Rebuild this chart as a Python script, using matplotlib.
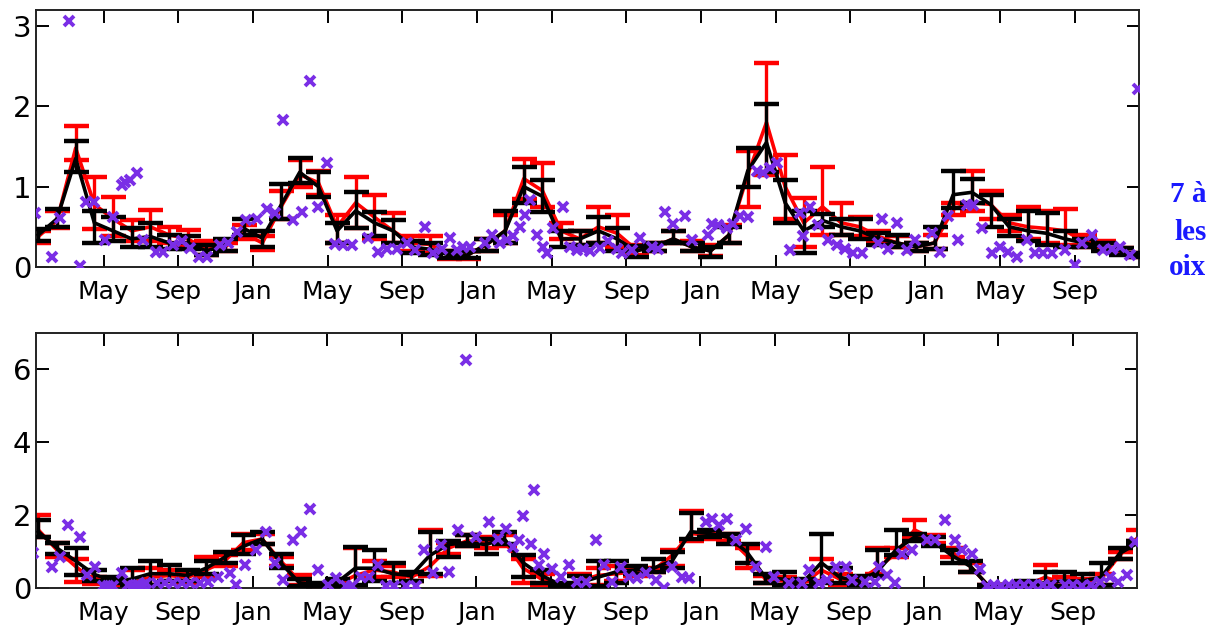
import numpy as np
import matplotlib
matplotlib.use("Agg")
import matplotlib.pyplot as plt

# monthly means (mid-month), 5 years starting Jan
tick_pos = [4, 8, 12, 16, 20, 24, 28, 32, 36, 40, 44, 48, 52, 56]
tick_labels = ["May", "Sep", "Jan", "May", "Sep", "Jan", "May", "Sep",
               "Jan", "May", "Sep", "Jan", "May", "Sep"]

# ---- top panel ----
black_mean_top = [0.40, 0.60, 1.35, 0.55, 0.45, 0.35, 0.38, 0.30, 0.30, 0.20, 0.27, 0.48, 0.36, 0.77, 1.18, 1.00, 0.45, 0.70, 0.55, 0.45,
                  0.25, 0.22, 0.15, 0.15, 0.28, 0.45, 1.00, 0.88, 0.35, 0.35, 0.45, 0.35, 0.20, 0.25, 0.35, 0.25, 0.20, 0.40, 1.20, 1.55,
                  0.80, 0.45, 0.58, 0.50, 0.45, 0.35, 0.30, 0.25, 0.30, 0.90, 0.93, 0.78, 0.50, 0.45, 0.42, 0.35, 0.30, 0.25, 0.20, 0.15]
black_hi_top = [0.47, 0.72, 1.57, 0.70, 0.62, 0.48, 0.55, 0.40, 0.38, 0.27, 0.35, 0.60, 0.45, 1.03, 1.36, 1.18, 0.55, 0.94, 0.68, 0.58,
                0.33, 0.30, 0.20, 0.20, 0.35, 0.70, 1.25, 1.08, 0.45, 0.45, 0.62, 0.48, 0.26, 0.30, 0.45, 0.30, 0.25, 0.50, 1.48, 2.03,
                1.08, 0.70, 0.66, 0.60, 0.60, 0.42, 0.40, 0.30, 0.50, 1.20, 1.09, 0.90, 0.60, 0.70, 0.67, 0.45, 0.35, 0.30, 0.24, 0.18]
black_lo_top = [0.32, 0.50, 1.18, 0.30, 0.32, 0.25, 0.25, 0.22, 0.22, 0.15, 0.20, 0.40, 0.25, 0.60, 1.04, 0.87, 0.30, 0.48, 0.38, 0.30,
                0.17, 0.15, 0.11, 0.11, 0.20, 0.30, 0.80, 0.68, 0.25, 0.28, 0.30, 0.20, 0.12, 0.20, 0.30, 0.20, 0.13, 0.30, 1.00, 1.18,
                0.55, 0.18, 0.50, 0.40, 0.35, 0.28, 0.25, 0.20, 0.22, 0.74, 0.80, 0.50, 0.38, 0.33, 0.28, 0.25, 0.25, 0.20, 0.15, 0.12]
red_mean_top = [0.38, 0.58, 1.48, 0.78, 0.60, 0.45, 0.50, 0.40, 0.35, 0.22, 0.25, 0.42, 0.30, 0.75, 1.15, 1.05, 0.50, 0.80, 0.62, 0.45,
                0.30, 0.28, 0.15, 0.15, 0.28, 0.45, 1.10, 0.95, 0.45, 0.35, 0.50, 0.42, 0.22, 0.25, 0.35, 0.25, 0.20, 0.40, 1.15, 1.80,
                1.00, 0.55, 0.75, 0.55, 0.50, 0.38, 0.30, 0.25, 0.30, 0.72, 0.80, 0.78, 0.55, 0.50, 0.48, 0.45, 0.32, 0.27, 0.20, 0.15]
red_hi_top = [0.45, 0.70, 1.76, 1.12, 0.87, 0.59, 0.71, 0.50, 0.46, 0.32, 0.30, 0.52, 0.38, 0.95, 1.33, 1.20, 0.65, 1.12, 0.90, 0.67,
              0.38, 0.38, 0.20, 0.20, 0.35, 0.65, 1.35, 1.30, 0.55, 0.45, 0.75, 0.65, 0.28, 0.30, 0.45, 0.32, 0.27, 0.52, 1.45, 2.54,
              1.40, 0.86, 1.24, 0.80, 0.62, 0.45, 0.38, 0.30, 0.40, 0.80, 1.20, 0.95, 0.65, 0.75, 0.70, 0.72, 0.40, 0.32, 0.24, 0.18]
red_lo_top = [0.30, 0.48, 1.33, 0.47, 0.38, 0.32, 0.32, 0.30, 0.25, 0.15, 0.20, 0.35, 0.21, 0.60, 1.00, 0.90, 0.30, 0.48, 0.35, 0.30,
              0.20, 0.18, 0.10, 0.10, 0.20, 0.30, 0.85, 0.75, 0.35, 0.28, 0.30, 0.25, 0.15, 0.20, 0.30, 0.20, 0.14, 0.30, 0.75, 1.15,
              0.60, 0.25, 0.40, 0.40, 0.38, 0.30, 0.25, 0.20, 0.22, 0.65, 0.70, 0.60, 0.45, 0.35, 0.30, 0.28, 0.25, 0.22, 0.16, 0.12]
samples_t_top = [0.32, 1.22, 1.66, 2.16, 2.73, 3.05, 3.48, 4.07, 4.48, 4.97, 5.14, 5.41, 5.80, 6.12, 6.80, 7.19, 7.70, 8.18, 8.62, 9.12,
                 9.55, 10.23, 10.67, 11.16, 11.62, 12.20, 12.73, 13.18, 13.62, 14.16, 14.61, 15.05, 15.50, 15.95, 16.39, 16.83, 17.28, 18.17, 18.71, 19.16,
                 19.69, 20.23, 20.67, 21.21, 21.64, 22.10, 22.55, 22.91, 23.26, 23.62, 24.42, 24.78, 25.23, 25.59, 25.94, 26.30, 26.57, 26.83, 27.19, 27.55,
                 27.73, 28.08, 28.62, 28.98, 29.34, 29.67, 30.05, 30.58, 31.01, 31.48, 31.75, 32.28, 32.73, 33.35, 33.69, 34.07, 34.51, 35.14, 35.50, 36.38,
                 36.57, 36.92, 37.37, 37.72, 38.08, 38.53, 38.98, 39.33, 39.69, 40.05, 40.76, 41.30, 41.47, 41.83, 42.28, 42.81, 43.26, 43.71, 44.15, 44.60,
                 45.47, 45.67, 46.01, 46.48, 47.01, 47.46, 48.35, 48.80, 49.24, 49.78, 50.22, 50.56, 51.03, 51.56, 52.01, 52.45, 52.90, 53.44, 53.88, 54.33,
                 54.78, 55.49, 56.03, 56.38, 56.92, 57.54, 57.99, 58.44, 58.97, 59.42]
samples_v_top = [0.67, 0.13, 0.61, 3.06, 0.01, 0.81, 0.81, 0.34, 0.62, 1.02, 1.06, 1.08, 1.17, 0.34, 0.19, 0.19, 0.27, 0.33, 0.24, 0.13,
                 0.13, 0.27, 0.30, 0.44, 0.58, 0.60, 0.72, 0.67, 1.83, 0.58, 0.69, 2.31, 0.75, 1.29, 0.29, 0.28, 0.27, 0.36, 0.19, 0.23,
                 0.23, 0.30, 0.21, 0.50, 0.17, 0.23, 0.36, 0.21, 0.25, 0.25, 0.30, 0.40, 0.30, 0.34, 0.38, 0.50, 0.65, 0.83, 0.40, 0.25,
                 0.17, 0.48, 0.75, 0.25, 0.21, 0.22, 0.20, 0.24, 0.32, 0.22, 0.18, 0.21, 0.36, 0.25, 0.22, 0.69, 0.53, 0.63, 0.34, 0.40,
                 0.54, 0.52, 0.48, 0.54, 0.64, 0.62, 1.19, 1.17, 1.23, 1.29, 0.21, 0.67, 0.38, 0.75, 0.52, 0.34, 0.27, 0.23, 0.17, 0.17,
                 0.30, 0.60, 0.23, 0.55, 0.21, 0.34, 0.42, 0.19, 0.63, 0.34, 0.77, 0.77, 0.48, 0.17, 0.25, 0.19, 0.13, 0.34, 0.17, 0.17,
                 0.18, 0.21, 0.03, 0.30, 0.40, 0.21, 0.23, 0.25, 0.15, 2.22]

# ---- bottom panel ----
black_mean_bot = [1.55, 1.10, 0.75, 0.38, 0.20, 0.25, 0.40, 0.40, 0.35, 0.55, 0.85, 1.15, 1.35, 0.70, 0.15, 0.10, 0.15, 0.55, 0.55, 0.40,
                  0.35, 0.90, 1.20, 1.25, 1.20, 1.35, 0.70, 0.35, 0.10, 0.15, 0.30, 0.45, 0.50, 0.55, 0.75, 1.55, 1.50, 1.40, 1.00, 0.30,
                  0.25, 0.15, 0.70, 0.30, 0.20, 0.45, 1.05, 1.40, 1.28, 0.90, 0.60, 0.05, 0.05, 0.10, 0.15, 0.20, 0.20, 0.30, 0.95, 1.25]
black_hi_bot = [1.86, 1.23, 1.10, 0.50, 0.30, 0.55, 0.75, 0.65, 0.50, 0.75, 1.00, 1.45, 1.55, 0.95, 0.25, 0.15, 0.25, 1.12, 1.04, 0.70,
                0.45, 1.55, 1.30, 1.45, 1.35, 1.55, 0.90, 0.50, 0.15, 0.35, 0.75, 0.75, 0.60, 0.81, 1.00, 2.05, 1.60, 1.50, 1.20, 0.40,
                0.45, 0.25, 1.48, 0.55, 0.35, 1.06, 1.60, 1.50, 1.40, 1.05, 0.75, 0.10, 0.10, 0.20, 0.45, 0.45, 0.40, 0.68, 1.10, 1.30]
black_lo_bot = [1.40, 0.95, 0.37, 0.20, 0.15, 0.08, 0.10, 0.20, 0.20, 0.40, 0.70, 0.95, 1.20, 0.55, 0.05, 0.05, 0.05, 0.10, 0.20, 0.15,
                0.20, 0.40, 0.85, 1.15, 0.95, 1.20, 0.30, 0.15, 0.05, 0.05, 0.05, 0.15, 0.40, 0.45, 0.55, 1.35, 1.40, 1.20, 0.70, 0.15,
                0.10, 0.05, 0.15, 0.15, 0.10, 0.35, 0.90, 1.30, 1.15, 0.70, 0.45, 0.00, 0.00, 0.05, 0.05, 0.05, 0.05, 0.10, 0.80, 1.20]
red_mean_bot = [1.60, 1.05, 0.60, 0.20, 0.15, 0.15, 0.30, 0.35, 0.30, 0.50, 0.75, 1.25, 1.35, 0.75, 0.20, 0.08, 0.10, 0.35, 0.50, 0.45,
                0.30, 0.60, 1.10, 1.30, 1.25, 1.30, 0.55, 0.25, 0.05, 0.20, 0.35, 0.40, 0.45, 0.50, 0.90, 1.50, 1.45, 1.40, 0.90, 0.25,
                0.20, 0.12, 0.50, 0.25, 0.20, 0.55, 0.95, 1.60, 1.35, 1.00, 0.60, 0.05, 0.05, 0.08, 0.30, 0.15, 0.15, 0.25, 0.90, 1.40]
red_hi_bot = [2.00, 1.25, 0.80, 0.30, 0.22, 0.50, 0.55, 0.50, 0.45, 0.85, 0.90, 1.50, 1.50, 0.85, 0.36, 0.12, 0.20, 1.10, 0.75, 0.60,
              0.40, 1.60, 1.25, 1.45, 1.40, 1.45, 0.80, 0.40, 0.10, 0.40, 0.55, 0.60, 0.55, 0.55, 1.05, 2.13, 1.55, 1.50, 1.10, 0.35,
              0.30, 0.20, 0.80, 0.40, 0.30, 1.10, 1.10, 1.86, 1.45, 1.10, 0.70, 0.10, 0.10, 0.15, 0.64, 0.30, 0.25, 0.40, 1.00, 1.60]
red_lo_bot = [1.40, 0.85, 0.18, 0.12, 0.10, 0.05, 0.10, 0.20, 0.15, 0.30, 0.60, 1.05, 1.20, 0.60, 0.08, 0.04, 0.05, 0.05, 0.30, 0.30,
              0.20, 0.35, 0.95, 1.15, 1.10, 1.15, 0.15, 0.10, 0.02, 0.05, 0.10, 0.20, 0.35, 0.45, 0.60, 1.30, 1.35, 1.30, 0.55, 0.15,
              0.10, 0.05, 0.20, 0.10, 0.10, 0.40, 0.85, 1.40, 1.25, 0.85, 0.45, 0.00, 0.00, 0.03, 0.10, 0.05, 0.05, 0.10, 0.80, 1.30]
samples_t_bot = [0.23, 1.22, 1.66, 2.10, 2.73, 3.09, 3.54, 3.96, 4.23, 4.50, 4.97, 5.30, 5.57, 5.84, 6.11, 6.30, 6.86, 7.28, 7.71, 8.20,
                 8.62, 9.16, 9.59, 10.12, 10.77, 11.12, 11.57, 12.20, 12.73, 13.18, 13.62, 14.16, 14.61, 15.05, 15.50, 16.03, 16.48, 17.02, 17.35, 17.82,
                 18.26, 18.71, 19.16, 19.60, 20.25, 20.78, 21.21, 21.66, 22.10, 22.55, 22.99, 23.44, 23.98, 24.69, 25.14, 25.59, 25.94, 26.30, 26.48, 26.93,
                 27.10, 27.37, 27.64, 28.08, 28.53, 28.98, 29.42, 29.87, 30.41, 30.85, 31.30, 31.75, 32.19, 32.64, 33.09, 33.62, 34.07, 34.51, 35.05, 35.40,
                 36.30, 36.65, 37.01, 37.46, 37.91, 38.44, 38.98, 39.51, 39.96, 40.76, 41.46, 41.83, 42.37, 42.81, 43.28, 43.81, 44.15, 44.87, 45.37, 45.58,
                 46.03, 46.48, 46.83, 47.36, 48.17, 48.62, 49.15, 49.69, 50.04, 50.58, 51.03, 51.37, 51.74, 52.12, 52.55, 52.97, 53.40, 53.88, 54.37, 54.85,
                 55.60, 56.03, 56.51, 56.99, 57.45, 57.99, 58.44, 58.88, 59.33]
samples_v_bot = [0.96, 0.59, 0.87, 1.72, 1.41, 0.36, 0.59, 0.05, 0.05, 0.05, 0.41, 0.09, 0.05, 0.09, 0.09, 0.14, 0.14, 0.14, 0.14, 0.14,
                 0.14, 0.14, 0.18, 0.32, 0.41, 0.09, 0.64, 1.04, 1.54, 0.68, 0.23, 1.31, 1.54, 2.18, 0.50, 0.09, 0.27, 0.05, 0.05, 0.32,
                 0.32, 0.64, 0.05, 0.05, 0.05, 0.05, 1.04, 0.41, 1.18, 0.45, 1.59, 6.24, 1.41, 1.81, 1.36, 1.63, 1.13, 1.31, 1.99, 1.22,
                 2.68, 0.63, 0.95, 0.54, 0.32, 0.63, 0.18, 0.18, 1.31, 0.63, 0.18, 0.59, 0.32, 0.27, 0.41, 0.23, 0.00, 0.59, 0.32, 0.27,
                 1.81, 1.90, 1.72, 1.90, 1.31, 1.63, 0.59, 1.13, 0.32, 0.14, 0.14, 0.50, 0.14, 0.23, 0.59, 0.59, 0.23, 0.18, 0.18, 0.59,
                 0.36, 0.14, 0.95, 1.04, 1.31, 1.31, 1.86, 1.31, 1.04, 0.95, 0.54, 0.05, 0.08, 0.05, 0.08, 0.10, 0.08, 0.10, 0.08, 0.10,
                 0.08, 0.10, 0.05, 0.10, 0.18, 0.32, 0.18, 0.36, 1.27]

PURPLE = "#7a2ee6"


def err(mean, lo, hi):
    mean = np.asarray(mean)
    return [np.clip(mean - np.asarray(lo), 0, None), np.clip(np.asarray(hi) - mean, 0, None)]


def panel(ax, red, black, st, sv, ylim, yticks):
    x = np.arange(len(black[0])) + 0.5
    ax.errorbar(x, red[0], yerr=err(*red), color="red", lw=2.6,
                elinewidth=2.4, capsize=9, capthick=3.2, zorder=2)
    ax.errorbar(x, black[0], yerr=err(*black), color="black", lw=2.6,
                elinewidth=2.4, capsize=9, capthick=3.2, zorder=3)
    ax.plot(st, sv, "x", color=PURPLE, ms=7.5, mew=2.8, zorder=4)
    ax.set_xlim(0.36, 59.45)
    ax.set_ylim(*ylim)
    ax.set_xticks(tick_pos)
    ax.set_xticklabels(tick_labels, fontsize=18)
    ax.set_yticks(yticks)
    ax.set_yticklabels([str(v) for v in yticks], fontsize=21)
    ax.tick_params(direction="in", length=9, width=1.4, top=True, right=True)
    ax.tick_params(axis="x", pad=9)
    ax.tick_params(axis="y", pad=3)
    for s in ax.spines.values():
        s.set_linewidth(1.4)
        s.set_color("#222222")


fig = plt.figure(figsize=(12.15, 6.29), dpi=100)
ax1 = fig.add_axes([0.0294, 0.5755, 0.9080, 0.4086])
ax2 = fig.add_axes([0.0294, 0.0647, 0.9066, 0.4064])

panel(ax1, (red_mean_top, red_lo_top, red_hi_top), (black_mean_top, black_lo_top, black_hi_top),
      samples_t_top, samples_v_top, (0, 3.2), [0, 1, 2, 3])
panel(ax2, (red_mean_bot, red_lo_bot, red_hi_bot), (black_mean_bot, black_lo_bot, black_hi_bot),
      samples_t_bot, samples_v_bot, (0, 7), [0, 2, 4, 6])

# stray text from the page, cut off at the right
for txt, yy in [("7 à", 0.690), ("les", 0.630), ("oix", 0.574)]:
    fig.text(0.993, yy, txt, ha="right", va="center", color="#1a1aff",
             fontsize=21, fontweight="bold", family="Liberation Serif")

fig.savefig("out.png", dpi=100)
